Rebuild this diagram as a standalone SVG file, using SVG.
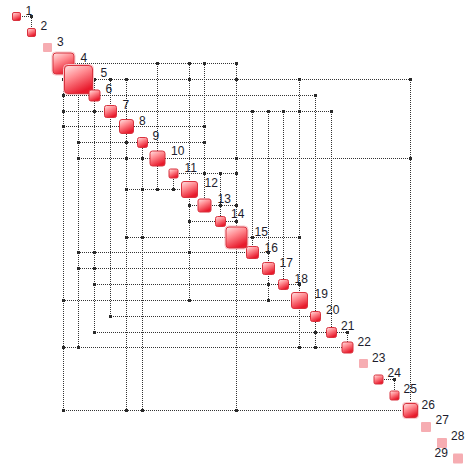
<svg xmlns="http://www.w3.org/2000/svg" xmlns:xlink="http://www.w3.org/1999/xlink" width="468" height="473" viewBox="0 0 468 473">
<style>
.e{fill:none;stroke:#333;stroke-width:1;stroke-dasharray:1 1;stroke-dashoffset:0.5}
.n{fill:url(#g);stroke:#d8323e;stroke-width:1}
.h{fill:none;stroke:#f8c4c8;stroke-width:1}
.f{fill:#f6adb2}
.t{font-family:"Liberation Sans",Arial,sans-serif;font-size:12px;fill:#1c1c2c}
.m{fill:#2a2a2a}
</style>
<defs>
<linearGradient id="g" x1="0" y1="0" x2="0.5" y2="1">
<stop offset="0" stop-color="#ffe6e6"/>
<stop offset="0.45" stop-color="#ff8a90"/>
<stop offset="1" stop-color="#e81a2c"/>
</linearGradient>
<rect id="d" x="-1.5" y="-1.5" width="3" height="3"/>
</defs>
<rect width="468" height="473" fill="#fff"/>
<g id="connectors">
<path class="e" d="M16.5 16.5H31.5M31.5 32.5V16.5"/>
<path class="e" d="M63.5 63.5H157.5M157.5 158.5V63.5"/>
<path class="e" d="M63.5 63.5H189.5M189.5 189.5V63.5"/>
<path class="e" d="M63.5 63.5H204.5M204.5 205.5V63.5"/>
<path class="e" d="M63.5 63.5H236.5M236.5 237.5V63.5"/>
<path class="e" d="M78.5 79.5H94.5M94.5 95.5V79.5"/>
<path class="e" d="M78.5 79.5H110.5M110.5 111.5V79.5"/>
<path class="e" d="M78.5 79.5H126.5M126.5 126.5V79.5"/>
<path class="e" d="M78.5 79.5H189.5M189.5 189.5V79.5"/>
<path class="e" d="M78.5 79.5H236.5M236.5 237.5V79.5"/>
<path class="e" d="M78.5 79.5H299.5M299.5 300.5V79.5"/>
<path class="e" d="M78.5 79.5H410.5M410.5 410.5V79.5"/>
<path class="e" d="M94.5 95.5H315.5M315.5 316.5V95.5"/>
<path class="e" d="M110.5 111.5H252.5M252.5 252.5V111.5"/>
<path class="e" d="M110.5 111.5H268.5M268.5 268.5V111.5"/>
<path class="e" d="M110.5 111.5H283.5M283.5 284.5V111.5"/>
<path class="e" d="M110.5 111.5H299.5M299.5 300.5V111.5"/>
<path class="e" d="M110.5 111.5H331.5M331.5 332.5V111.5"/>
<path class="e" d="M126.5 126.5H204.5M204.5 205.5V126.5"/>
<path class="e" d="M142.5 142.5H204.5M204.5 205.5V142.5"/>
<path class="e" d="M157.5 158.5H236.5M236.5 237.5V158.5"/>
<path class="e" d="M157.5 158.5H410.5M410.5 410.5V158.5"/>
<path class="e" d="M173.5 173.5H204.5M204.5 205.5V173.5"/>
<path class="e" d="M173.5 173.5H220.5M220.5 221.5V173.5"/>
<path class="e" d="M173.5 173.5H236.5M236.5 237.5V173.5"/>
<path class="e" d="M204.5 205.5H220.5M220.5 221.5V205.5"/>
<path class="e" d="M204.5 205.5H236.5M236.5 237.5V205.5"/>
<path class="e" d="M220.5 221.5H236.5M236.5 237.5V221.5"/>
<path class="e" d="M236.5 237.5H252.5M252.5 252.5V237.5"/>
<path class="e" d="M236.5 237.5H299.5M299.5 300.5V237.5"/>
<path class="e" d="M252.5 252.5H268.5M268.5 268.5V252.5"/>
<path class="e" d="M283.5 284.5H299.5M299.5 300.5V284.5"/>
<path class="e" d="M331.5 332.5H347.5M347.5 347.5V332.5"/>
<path class="e" d="M378.5 379.5H394.5M394.5 395.5V379.5"/>
<path class="e" d="M63.5 63.5V79.5M78.5 79.5H63.5"/>
<path class="e" d="M63.5 63.5V95.5M94.5 95.5H63.5"/>
<path class="e" d="M63.5 63.5V111.5M110.5 111.5H63.5"/>
<path class="e" d="M63.5 63.5V126.5M126.5 126.5H63.5"/>
<path class="e" d="M63.5 63.5V300.5M299.5 300.5H63.5"/>
<path class="e" d="M63.5 63.5V347.5M347.5 347.5H63.5"/>
<path class="e" d="M63.5 63.5V410.5M410.5 410.5H63.5"/>
<path class="e" d="M78.5 79.5V142.5M142.5 142.5H78.5"/>
<path class="e" d="M78.5 79.5V158.5M157.5 158.5H78.5"/>
<path class="e" d="M78.5 79.5V252.5M252.5 252.5H78.5"/>
<path class="e" d="M78.5 79.5V268.5M268.5 268.5H78.5"/>
<path class="e" d="M78.5 79.5V347.5M347.5 347.5H78.5"/>
<path class="e" d="M94.5 95.5V111.5M110.5 111.5H94.5"/>
<path class="e" d="M94.5 95.5V252.5M252.5 252.5H94.5"/>
<path class="e" d="M94.5 95.5V268.5M268.5 268.5H94.5"/>
<path class="e" d="M94.5 95.5V284.5M283.5 284.5H94.5"/>
<path class="e" d="M94.5 95.5V332.5M331.5 332.5H94.5"/>
<path class="e" d="M110.5 111.5V316.5M315.5 316.5H110.5"/>
<path class="e" d="M126.5 126.5V142.5M142.5 142.5H126.5"/>
<path class="e" d="M126.5 126.5V158.5M157.5 158.5H126.5"/>
<path class="e" d="M126.5 126.5V189.5M189.5 189.5H126.5"/>
<path class="e" d="M126.5 126.5V237.5M236.5 237.5H126.5"/>
<path class="e" d="M126.5 126.5V410.5M410.5 410.5H126.5"/>
<path class="e" d="M142.5 142.5V158.5M157.5 158.5H142.5"/>
<path class="e" d="M142.5 142.5V189.5M189.5 189.5H142.5"/>
<path class="e" d="M142.5 142.5V237.5M236.5 237.5H142.5"/>
<path class="e" d="M142.5 142.5V410.5M410.5 410.5H142.5"/>
<path class="e" d="M157.5 158.5V189.5M189.5 189.5H157.5"/>
<path class="e" d="M173.5 173.5V189.5M189.5 189.5H173.5"/>
<path class="e" d="M189.5 189.5V205.5M204.5 205.5H189.5"/>
<path class="e" d="M189.5 189.5V221.5M220.5 221.5H189.5"/>
<path class="e" d="M189.5 189.5V252.5M252.5 252.5H189.5"/>
<path class="e" d="M189.5 189.5V300.5M299.5 300.5H189.5"/>
<path class="e" d="M236.5 237.5V410.5M410.5 410.5H236.5"/>
<path class="e" d="M268.5 268.5V284.5M283.5 284.5H268.5"/>
<path class="e" d="M268.5 268.5V300.5M299.5 300.5H268.5"/>
<path class="e" d="M299.5 300.5V347.5M347.5 347.5H299.5"/>
<path class="e" d="M315.5 316.5V332.5M331.5 332.5H315.5"/>
<path class="e" d="M315.5 316.5V347.5M347.5 347.5H315.5"/>
<g class="m">
<use xlink:href="#d" x="31.5" y="16.5"/>
<use xlink:href="#d" x="157.5" y="63.5"/>
<use xlink:href="#d" x="189.5" y="63.5"/>
<use xlink:href="#d" x="204.5" y="63.5"/>
<use xlink:href="#d" x="236.5" y="63.5"/>
<use xlink:href="#d" x="94.5" y="79.5"/>
<use xlink:href="#d" x="110.5" y="79.5"/>
<use xlink:href="#d" x="126.5" y="79.5"/>
<use xlink:href="#d" x="189.5" y="79.5"/>
<use xlink:href="#d" x="236.5" y="79.5"/>
<use xlink:href="#d" x="299.5" y="79.5"/>
<use xlink:href="#d" x="410.5" y="79.5"/>
<use xlink:href="#d" x="315.5" y="95.5"/>
<use xlink:href="#d" x="252.5" y="111.5"/>
<use xlink:href="#d" x="268.5" y="111.5"/>
<use xlink:href="#d" x="283.5" y="111.5"/>
<use xlink:href="#d" x="299.5" y="111.5"/>
<use xlink:href="#d" x="331.5" y="111.5"/>
<use xlink:href="#d" x="204.5" y="126.5"/>
<use xlink:href="#d" x="204.5" y="142.5"/>
<use xlink:href="#d" x="236.5" y="158.5"/>
<use xlink:href="#d" x="410.5" y="158.5"/>
<use xlink:href="#d" x="204.5" y="173.5"/>
<use xlink:href="#d" x="220.5" y="173.5"/>
<use xlink:href="#d" x="236.5" y="173.5"/>
<use xlink:href="#d" x="220.5" y="205.5"/>
<use xlink:href="#d" x="236.5" y="205.5"/>
<use xlink:href="#d" x="236.5" y="221.5"/>
<use xlink:href="#d" x="252.5" y="237.5"/>
<use xlink:href="#d" x="299.5" y="237.5"/>
<use xlink:href="#d" x="268.5" y="252.5"/>
<use xlink:href="#d" x="299.5" y="284.5"/>
<use xlink:href="#d" x="347.5" y="332.5"/>
<use xlink:href="#d" x="394.5" y="379.5"/>
<use xlink:href="#d" x="63.5" y="79.5"/>
<use xlink:href="#d" x="63.5" y="95.5"/>
<use xlink:href="#d" x="63.5" y="111.5"/>
<use xlink:href="#d" x="63.5" y="126.5"/>
<use xlink:href="#d" x="63.5" y="300.5"/>
<use xlink:href="#d" x="63.5" y="347.5"/>
<use xlink:href="#d" x="63.5" y="410.5"/>
<use xlink:href="#d" x="78.5" y="142.5"/>
<use xlink:href="#d" x="78.5" y="158.5"/>
<use xlink:href="#d" x="78.5" y="252.5"/>
<use xlink:href="#d" x="78.5" y="268.5"/>
<use xlink:href="#d" x="78.5" y="347.5"/>
<use xlink:href="#d" x="94.5" y="111.5"/>
<use xlink:href="#d" x="94.5" y="252.5"/>
<use xlink:href="#d" x="94.5" y="268.5"/>
<use xlink:href="#d" x="94.5" y="284.5"/>
<use xlink:href="#d" x="94.5" y="332.5"/>
<use xlink:href="#d" x="110.5" y="316.5"/>
<use xlink:href="#d" x="126.5" y="142.5"/>
<use xlink:href="#d" x="126.5" y="158.5"/>
<use xlink:href="#d" x="126.5" y="189.5"/>
<use xlink:href="#d" x="126.5" y="237.5"/>
<use xlink:href="#d" x="126.5" y="410.5"/>
<use xlink:href="#d" x="142.5" y="158.5"/>
<use xlink:href="#d" x="142.5" y="189.5"/>
<use xlink:href="#d" x="142.5" y="237.5"/>
<use xlink:href="#d" x="142.5" y="410.5"/>
<use xlink:href="#d" x="157.5" y="189.5"/>
<use xlink:href="#d" x="173.5" y="189.5"/>
<use xlink:href="#d" x="189.5" y="205.5"/>
<use xlink:href="#d" x="189.5" y="221.5"/>
<use xlink:href="#d" x="189.5" y="252.5"/>
<use xlink:href="#d" x="189.5" y="300.5"/>
<use xlink:href="#d" x="236.5" y="410.5"/>
<use xlink:href="#d" x="268.5" y="284.5"/>
<use xlink:href="#d" x="268.5" y="300.5"/>
<use xlink:href="#d" x="299.5" y="347.5"/>
<use xlink:href="#d" x="315.5" y="332.5"/>
<use xlink:href="#d" x="315.5" y="347.5"/>
</g>
</g>
<g id="n1"><rect class="n" x="12.5" y="12.5" width="8" height="8" rx="1.5"/><text class="t" x="25.5" y="15">1</text></g>
<g id="n2"><rect class="n" x="27.5" y="28.5" width="8" height="8" rx="1.5"/><text class="t" x="40.5" y="30">2</text></g>
<g id="n3"><rect class="f" x="43" y="43" width="9" height="9" rx="1"/><text class="t" x="57" y="46">3</text></g>
<g id="n4"><rect class="h" x="52" y="52" width="23" height="23" rx="3.5"/><rect class="n" x="53" y="53" width="21" height="21" rx="3"/><text class="t" x="80.5" y="61.5">4</text></g>
<g id="n5"><rect class="h" x="63.5" y="64.5" width="30" height="30" rx="4"/><rect class="n" x="64.5" y="65.5" width="28" height="28" rx="3.5"/><text class="t" x="100.5" y="76.5">5</text></g>
<g id="n6"><rect class="n" x="89" y="90" width="11" height="11" rx="2"/><text class="t" x="105.5" y="93">6</text></g>
<g id="n7"><rect class="n" x="104.5" y="105.5" width="12" height="12" rx="2"/><text class="t" x="122.5" y="109">7</text></g>
<g id="n8"><rect class="n" x="119.5" y="119.5" width="14" height="14" rx="2.5"/><text class="t" x="139" y="125">8</text></g>
<g id="n9"><rect class="n" x="137.5" y="137.5" width="10" height="10" rx="2"/><text class="t" x="152.5" y="140">9</text></g>
<g id="n10"><rect class="n" x="150" y="151" width="15" height="15" rx="2.5"/><text class="t" x="171" y="155">10</text></g>
<g id="n11"><rect class="n" x="169" y="169" width="9" height="9" rx="1.5"/><text class="t" x="184.5" y="171.5">11</text></g>
<g id="n12"><rect class="n" x="181.5" y="181.5" width="16" height="16" rx="2.5"/><text class="t" x="204.5" y="187">12</text></g>
<g id="n13"><rect class="n" x="198" y="199" width="13" height="13" rx="2"/><text class="t" x="217.5" y="203">13</text></g>
<g id="n14"><rect class="n" x="215.5" y="216.5" width="10" height="10" rx="2"/><text class="t" x="231" y="218">14</text></g>
<g id="n15"><rect class="h" x="225" y="226" width="23" height="23" rx="3.5"/><rect class="n" x="226" y="227" width="21" height="21" rx="3"/><text class="t" x="254.5" y="236">15</text></g>
<g id="n16"><rect class="n" x="246.5" y="246.5" width="12" height="12" rx="2"/><text class="t" x="264.5" y="251.5">16</text></g>
<g id="n17"><rect class="n" x="262.5" y="262.5" width="12" height="12" rx="2"/><text class="t" x="279.5" y="267">17</text></g>
<g id="n18"><rect class="n" x="278.5" y="279.5" width="10" height="10" rx="2"/><text class="t" x="294.5" y="282.5">18</text></g>
<g id="n19"><rect class="n" x="291.5" y="292.5" width="16" height="16" rx="2.5"/><text class="t" x="314.5" y="298">19</text></g>
<g id="n20"><rect class="n" x="310.5" y="311.5" width="10" height="10" rx="2"/><text class="t" x="326" y="314">20</text></g>
<g id="n21"><rect class="n" x="326.5" y="327.5" width="10" height="10" rx="2"/><text class="t" x="341" y="330">21</text></g>
<g id="n22"><rect class="n" x="342" y="342" width="11" height="11" rx="2"/><text class="t" x="357.5" y="345.5">22</text></g>
<g id="n23"><rect class="f" x="359" y="359" width="9" height="9" rx="1"/><text class="t" x="372" y="361.5">23</text></g>
<g id="n24"><rect class="n" x="374" y="375" width="9" height="9" rx="1.5"/><text class="t" x="387.5" y="376.5">24</text></g>
<g id="n25"><rect class="n" x="390" y="391" width="9" height="9" rx="1.5"/><text class="t" x="403.5" y="393">25</text></g>
<g id="n26"><rect class="h" x="402.5" y="402.5" width="16" height="16" rx="3"/><rect class="n" x="403.5" y="403.5" width="14" height="14" rx="2.5"/><text class="t" x="421.5" y="409">26</text></g>
<g id="n27"><rect class="f" x="421" y="422" width="10" height="10" rx="1"/><text class="t" x="435.5" y="424">27</text></g>
<g id="n28"><rect class="f" x="437" y="438" width="10" height="10" rx="1"/><text class="t" x="451" y="440">28</text></g>
<g id="n29"><rect class="f" x="453" y="453.5" width="10" height="10" rx="1"/><text class="t" x="434.5" y="456.5">29</text></g>
</svg>
